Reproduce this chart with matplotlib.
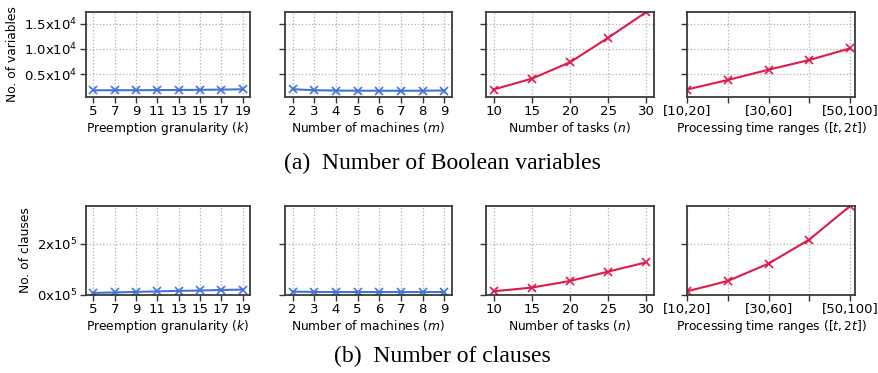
import matplotlib
matplotlib.use("Agg")
import matplotlib.pyplot as plt
import numpy as np

# Data
k_vals = [5, 7, 9, 11, 13, 15, 17, 19]
k_vars = [1740, 1750, 1760, 1780, 1800, 1830, 1880, 1940]
k_clauses = [8000, 10000, 12000, 14000, 16000, 17500, 19500, 21000]

m_vals = [2, 3, 4, 5, 6, 7, 8, 9]
m_vars = [1960, 1760, 1690, 1660, 1650, 1650, 1660, 1700]
m_clauses = [13000, 12000, 11500, 11500, 11500, 11500, 11500, 11500]

n_vals = [10, 15, 20, 25, 30]
n_vars = [1900, 4070, 7340, 12260, 17400]
n_clauses = [14400, 28800, 54500, 91000, 127000]

p_labels = ['[10,20]', '', '[30,60]', '', '[50,100]']
p_vars = [1900, 3800, 5860, 7800, 10130]
p_clauses = [14400, 54500, 122000, 215600, 346000]

blue = '#4473d6'
red = '#e0194b'

fig = plt.figure(figsize=(8.79, 3.73), dpi=100)
W, H = 879, 373

cols = [(86, 250), (285, 452), (486, 654), (687, 855)]
rows = [(12, 97), (206, 295)]

def make_ax(c, r):
    x0, x1 = cols[c]
    y0, y1 = rows[r]
    return fig.add_axes([x0 / W, 1 - y1 / H, (x1 - x0) / W, (y1 - y0) / H])

xlabels = ['Preemption granularity ($k$)', 'Number of machines ($m$)',
           'Number of tasks ($n$)', 'Processing time ranges ($[t, 2t]$)']

for r in range(2):
    axs = [make_ax(c, r) for c in range(4)]
    if r == 0:
        datas = [k_vars, m_vars, n_vars, p_vars]
    else:
        datas = [k_clauses, m_clauses, n_clauses, p_clauses]
    xs = [k_vals, m_vals, n_vals, list(range(len(p_labels)))]
    colors = [blue, blue, red, red]
    for i, ax in enumerate(axs):
        ax.plot(xs[i], datas[i], color=colors[i], marker='x', markersize=6,
                markeredgewidth=1.2, linewidth=1.5)
        ax.grid(True, linestyle=':', color='#b0b0b0', linewidth=0.9)
        ax.set_axisbelow(True)
        for s in ax.spines.values():
            s.set_color('#3a3a3a')
            s.set_linewidth(1.3)
        ax.tick_params(labelsize=9.5, length=4, width=1.0, color='#333333', pad=2)
        ax.set_xlabel(xlabels[i], fontsize=8.8, labelpad=1.5)
        if r == 0:
            ax.set_ylim(400, 17400)
            ax.set_yticks([5000, 10000, 15000])
            if i == 0:
                ax.set_yticklabels(['0.5x10$^4$', '1.0x10$^4$', '1.5x10$^4$'])
            else:
                ax.set_yticklabels([])
        else:
            ax.set_ylim(0, 346000)
            ax.set_yticks([0, 200000])
            if i == 0:
                ax.set_yticklabels(['0x10$^5$', '2x10$^5$'])
            else:
                ax.set_yticklabels([])
    axs[0].set_xticks(k_vals)
    axs[1].set_xticks(m_vals)
    axs[2].set_xticks(n_vals)
    axs[3].set_xticks(range(len(p_labels)))
    axs[3].set_xticklabels(p_labels)
    axs[3].set_xlim(0, 4.12)
    axs[0].set_ylabel('No. of variables' if r == 0 else 'No. of clauses', fontsize=8.8)

fig.text(442 / W, 1 - 163 / H, '(a)  Number of Boolean variables', ha='center', va='center',
         fontsize=17, family='Liberation Serif')
fig.text(442 / W, 1 - 356 / H, '(b)  Number of clauses', ha='center', va='center',
         fontsize=17, family='Liberation Serif')

fig.savefig('out.png', dpi=100)
